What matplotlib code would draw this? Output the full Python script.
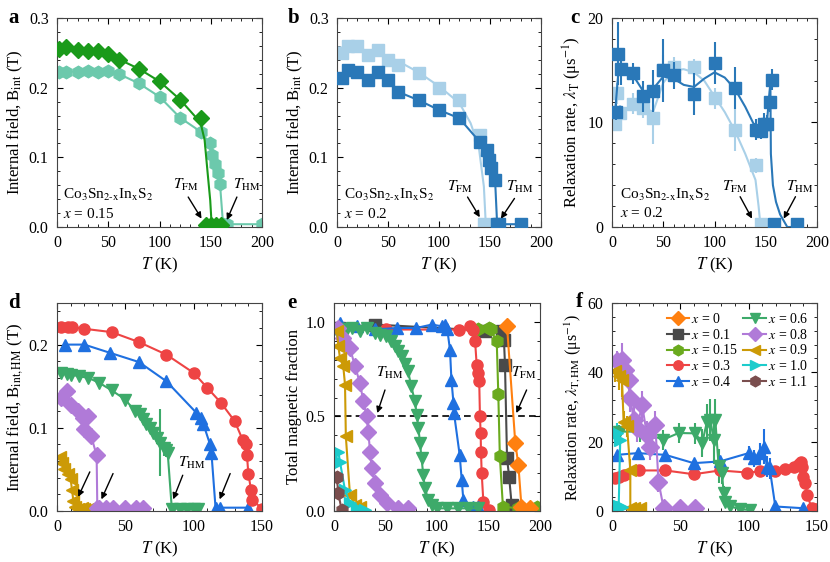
import numpy as np
import matplotlib
matplotlib.use("Agg")
import matplotlib.pyplot as plt
from matplotlib.ticker import AutoMinorLocator, MultipleLocator

plt.rcParams["font.family"] = ["Liberation Serif", "DejaVu Serif"]
plt.rcParams["mathtext.fontset"] = "stix"
plt.rcParams["font.size"] = 11

""" colours """
c_dkgreen = "#1a9a1a"
c_teal = "#6cc9ac"
c_dkblue = "#2a78b8"
c_ltblue = "#a9d0e8"
col = {
    "0": "#ff8010", "0.1": "#4a4a4a", "0.15": "#6aaa1e", "0.3": "#ee4444",
    "0.4": "#1f70e0", "0.6": "#3daa6a", "0.8": "#b07ad8", "0.9": "#cc9a06",
    "1.0": "#1ccccc", "1.1": "#7a4e4e",
}
mk = {
    "0": "D", "0.1": "s", "0.15": "h", "0.3": "o", "0.4": "^", "0.6": "v",
    "0.8": "D", "0.9": "<", "1.0": ">", "1.1": "h",
}

""" panel a data, x = 0.15 """
a_T_fm = [2, 9, 20, 30, 40, 50, 60, 80, 100, 120, 140, 145, 150, 155, 160]
a_B_fm = [0.255, 0.258, 0.254, 0.253, 0.252, 0.248, 0.240, 0.227, 0.210, 0.182, 0.156,
          0.003, 0.003, 0.003, 0.003]
a_fit_T = [0, 20, 40, 60, 80, 100, 120, 140, 144, 147, 149.5, 151, 160]
a_fit_B = [0.258, 0.256, 0.251, 0.241, 0.227, 0.209, 0.183, 0.150, 0.125, 0.077, 0.038, 0.0, 0.0]
a_T_hm = [2, 9, 20, 30, 40, 50, 60, 80, 100, 120, 140, 149, 151, 154, 157, 159, 162, 166, 200]
a_B_hm = [0.223, 0.223, 0.223, 0.224, 0.222, 0.224, 0.220, 0.206, 0.187, 0.157, 0.137,
          0.120, 0.103, 0.091, 0.077, 0.062, 0.004, 0.004, 0.004]

""" panel b data, x = 0.2 """
b_T_fm = [5, 11, 20, 30, 40, 50, 60, 80, 100, 120, 140, 144]
b_B_fm = [0.250, 0.260, 0.260, 0.247, 0.254, 0.240, 0.233, 0.221, 0.200, 0.182, 0.132, 0.004]
b_fit_T = [0, 20, 40, 60, 80, 100, 120, 131, 139, 144, 146]
b_fit_B = [0.258, 0.256, 0.250, 0.238, 0.222, 0.202, 0.178, 0.149, 0.115, 0.058, 0.0]
b_T_hm = [5, 11, 20, 30, 40, 50, 60, 80, 100, 120, 140, 147, 149, 151, 155, 157, 159, 180]
b_B_hm = [0.214, 0.226, 0.223, 0.211, 0.223, 0.211, 0.194, 0.182, 0.168, 0.156, 0.122,
          0.110, 0.096, 0.084, 0.067, 0.004, 0.004, 0.004]

""" panel c data, x = 0.2 """
c_T_hm = [4, 6, 9, 20, 30, 40, 50, 60, 80, 100, 120, 140, 145, 148, 151, 154, 156, 158, 180]
c_L_hm = [11.0, 16.6, 15.1, 14.7, 12.5, 13.0, 15.0, 14.5, 12.7, 15.7, 13.3, 9.3, 9.2,
          9.9, 9.9, 12.0, 14.1, 0.25, 0.25]
c_E_hm = [0.8, 3.0, 1.5, 1.0, 1.5, 2.0, 3.0, 1.3, 2.0, 2.0, 2.0, 1.0, 0.8, 1.0, 0.8,
          1.0, 1.0, 0.1, 0.1]
c_fit_hm_T = [3, 6, 10, 20, 33, 40, 50, 60, 70, 80, 90, 100, 110, 120, 130, 138, 148,
              151, 153, 154.5, 155, 157, 160, 164, 171, 180]
c_fit_hm_L = [11.0, 14.5, 15.0, 14.6, 12.6, 13.2, 14.4, 14.2, 13.6, 13.4, 14.2, 14.8,
              14.3, 13.2, 11.5, 9.9, 9.4, 9.8, 12.2, 13.8, 7.0, 4.0, 2.4, 1.2, 0.0, 0.0]
c_T_fm = [3, 5, 8, 20, 30, 40, 50, 60, 80, 100, 120, 140, 145]
c_L_fm = [9.9, 12.8, 10.9, 11.8, 11.4, 10.4, 15.0, 15.3, 15.3, 12.3, 9.3, 5.9, 0.25]
c_E_fm = [0.7, 1.0, 0.8, 1.0, 1.0, 2.5, 1.5, 1.0, 0.8, 1.0, 2.0, 0.7, 0.1]
c_fit_fm_T = [3, 10, 20, 30, 40, 50, 60, 70, 80, 90, 100, 110, 120, 130, 140, 143, 145]
c_fit_fm_L = [10.0, 11.0, 11.8, 11.5, 11.0, 13.8, 15.0, 15.1, 14.8, 14.0, 12.5, 11.0,
              9.2, 7.0, 4.5, 2.0, 0.0]

""" panel d data, B_int,HM """
d_T = {
    "0.3": [3, 8, 11, 20, 40, 60, 80, 100, 110, 120, 130, 136, 138, 139, 140, 142, 143, 150],
    "0.4": [6, 20, 39, 60, 80, 102, 105, 107, 112, 113, 116, 119, 140],
    "0.6": [3, 7, 10, 16, 23, 31, 40, 50, 57, 61, 63, 65, 68, 70, 73, 75, 78, 80, 81,
            84, 90, 95, 100, 103],
    "0.8": [3, 7, 10, 15, 19, 23, 20, 25, 29, 29.5, 31, 36, 41, 50, 58, 63],
    "0.9": [2, 4, 5, 8, 10, 11, 12, 13, 15, 18, 20, 23],
}
d_B = {
    "0.3": [0.221, 0.221, 0.221, 0.219, 0.215, 0.203, 0.188, 0.166, 0.148, 0.130, 0.108,
            0.085, 0.080, 0.067, 0.045, 0.025, 0.013, 0.003],
    "0.4": [0.200, 0.200, 0.190, 0.179, 0.156, 0.118, 0.112, 0.105, 0.080, 0.070, 0.004,
            0.004, 0.004],
    "0.6": [0.166, 0.165, 0.164, 0.162, 0.160, 0.154, 0.145, 0.134, 0.120, 0.116, 0.110,
            0.104, 0.100, 0.094, 0.088, 0.082, 0.076, 0.073, 0.070, 0.003, 0.003, 0.003,
            0.003, 0.003],
    "0.8": [0.136, 0.144, 0.128, 0.120, 0.112, 0.114, 0.098, 0.090, 0.067, 0.004, 0.004,
            0.004, 0.004, 0.004, 0.004, 0.004],
    "0.9": [0.065, 0.058, 0.050, 0.045, 0.038, 0.025, 0.012, 0.005, 0.003, 0.004, 0.003,
            0.003],
}
d_E6 = [0, 0, 0, 0, 0, 0, 0, 0, 0, 0, 0, 0, 0.003, 0.005, 0.008, 0.04, 0.01, 0.008,
        0.006, 0, 0, 0, 0, 0]

""" panel e data, magnetic fraction """
e_T = {
    "0": [168, 176, 179, 182, 190],
    "0.1": [5, 40, 147, 163, 165, 166, 168, 170, 172.5, 180],
    "0.15": [140, 150, 152, 158, 159.5, 161, 164, 179, 197],
    "0.3": [5, 50, 121, 132, 135, 137, 138.5, 140, 141, 141.7, 142.4, 142.7, 143.4, 145, 150],
    "0.4": [6, 22, 40, 61, 80, 95, 104.5, 108, 110, 112.6, 114, 116, 116.5, 122, 124,
            125.6, 135, 140],
    "0.6": [3, 8, 13, 17, 25, 32, 40, 45, 50, 55, 59, 62, 66, 69, 72, 75, 78.6, 80.3, 82,
            83.5, 85, 86.7, 88.3, 91.6, 95, 100, 110, 120, 130, 140],
    "0.8": [4.2, 9, 15.5, 20.4, 25.2, 28.5, 31.7, 33.3, 35, 36.6, 39.8, 44.7, 51, 62.5, 72],
    "0.9": [3, 4.2, 5.8, 9, 10.7, 11.5, 15.5, 20.4, 25],
    "1.0": [4.2, 5.8, 10.7, 15.5, 22, 30],
    "1.1": [2.6, 4.2, 7.4],
}
e_F = {
    "0": [0.977, 0.360, 0.244, 0.023, 0.014],
    "0.1": [0.970, 0.986, 0.954, 0.954, 0.906, 0.774, 0.279, 0.182, 0.032, 0.010],
    "0.15": [0.960, 0.968, 0.960, 0.897, 0.620, 0.290, 0.023, 0.014, 0.023],
    "0.3": [0.960, 0.960, 0.959, 0.977, 0.959, 0.897, 0.774, 0.730, 0.685, 0.500, 0.410,
            0.314, 0.200, 0.050, 0.005],
    "0.4": [0.995, 0.977, 0.960, 0.968, 0.968, 0.986, 0.977, 0.986, 0.960, 0.853, 0.694,
            0.571, 0.518, 0.297, 0.164, 0.058, 0.020, 0.020],
    "0.6": [0.950, 0.960, 0.960, 0.968, 0.950, 0.968, 0.940, 0.930, 0.924, 0.900, 0.870,
            0.845, 0.818, 0.780, 0.738, 0.659, 0.580, 0.509, 0.438, 0.359, 0.279, 0.190,
            0.120, 0.058, 0.030, 0.014, 0.014, 0.014, 0.014, 0.014],
    "0.8": [0.968, 0.915, 0.862, 0.765, 0.677, 0.580, 0.500, 0.420, 0.314, 0.226, 0.147,
            0.085, 0.040, 0.014, 0.014],
    "0.9": [0.950, 0.870, 0.810, 0.765, 0.668, 0.394, 0.085, 0.032, 0.020],
    "1.0": [0.314, 0.260, 0.110, 0.040, 0.014, 0.005],
    "1.1": [0.180, 0.095, 0.005],
}

""" panel f data, lambda_T,HM """
f_T = {
    "0.3": [2.4, 4.9, 8.5, 19.5, 39, 59.8, 79, 98.8, 108.5, 119.5, 126.8, 133, 136.6,
            138.3, 139, 140, 141.5, 143, 146, 149],
    "0.4": [3.7, 18.8, 39, 59.8, 79, 100, 103.7, 108.5, 111, 113.4, 115.4, 119.5, 140],
    "0.6": [3.4, 5.4, 20.7, 26.8, 37, 48.8, 61, 66, 69.5, 72, 74.4, 75.6, 78, 80.5, 81.7,
            83, 86.6, 94, 101],
    "0.8": [3.7, 7.3, 9.8, 12.2, 13.4, 15.9, 18.3, 22, 25.6, 28, 31.7, 34, 37.8, 50, 61],
    "0.9": [2.4, 4.9, 7.3, 8.5, 11, 13.4, 13.4, 16, 20.7],
    "1.0": [3.7, 6, 4.9, 7.3],
}
f_L = {
    "0.3": [9.4, 9.9, 10.4, 11.7, 11.7, 10.6, 11.7, 11.1, 11.4, 11.4, 12.0, 12.8, 13.5,
            14.0, 12.8, 9.9, 8.0, 4.6, 0.8, 0.5],
    "0.4": [16.2, 16.7, 16.2, 13.8, 14.3, 16.7, 15.2, 16.7, 18.6, 12.8, 12.3, 1.3, 0.8],
    "0.6": [22.0, 22.9, 22.9, 22.4, 20.5, 22.5, 22.4, 19.6, 25.8, 26.3, 20.5, 26.3, 13.0,
            10.9, 5.1, 2.7, 1.3, 0.5, 0.3],
    "0.8": [43.2, 43.6, 40.8, 37.9, 32.6, 26.3, 23.9, 30.6, 22.0, 18.6, 24.9, 8.5, 0.8,
            0.8, 0.8],
    "0.9": [40.3, 38.8, 37.9, 25.8, 24.4, 11.9, 0.8, 0.9, 0.8],
    "1.0": [22.4, 20.5, 1.3, 1.1],
}
f_E = {
    "0.3": [0.8, 0.8, 0.8, 0.8, 0.8, 0.8, 0.8, 0.8, 0.8, 0.8, 0.8, 0.8, 0.8, 0.8, 0.8,
            0.8, 0.8, 0.8, 0.3, 0.3],
    "0.4": [1, 1, 1, 1, 1.5, 2, 2.5, 3, 5, 3, 3, 0.5, 0.3],
    "0.6": [2, 2, 3, 3, 3, 3, 3, 4, 5, 6, 7, 6, 5, 3, 2, 1, 0.5, 0.3, 0.2],
    "0.8": [3, 5, 4, 4, 4, 4, 4, 4, 4, 4, 4, 3, 0.5, 0.5, 0.5],
    "0.9": [3, 4, 5, 3, 3, 3, 0.5, 0.5, 0.5],
    "1.0": [3, 3, 0.5, 0.5],
}
order = ["0", "0.1", "0.15", "0.3", "0.4", "0.6", "0.8", "0.9", "1.0", "1.1"]


def style(ax, xlim, ylim, xmaj, ymaj):
    ax.set_xlim(*xlim)
    ax.set_ylim(*ylim)
    ax.xaxis.set_major_locator(MultipleLocator(xmaj))
    ax.yaxis.set_major_locator(MultipleLocator(ymaj))
    ax.xaxis.set_minor_locator(AutoMinorLocator(5))
    ax.yaxis.set_minor_locator(AutoMinorLocator(5))
    ax.tick_params(which="both", direction="in", top=True, right=True, labelsize=11.5)
    ax.tick_params(which="major", length=4.5, width=0.8, pad=6)
    ax.tick_params(which="minor", length=2.5, width=0.6)
    for s in ax.spines.values():
        s.set_linewidth(0.8)
        s.set_color("#444444")
    ax.set_xlabel("$T$ (K)", fontsize=12, labelpad=3)


fig = plt.figure(figsize=(8.3, 5.62), dpi=100)
W, H = 830.0, 562.0


def add_ax(l, r, t, b):
    return fig.add_axes([l / W, 1 - b / H, (r - l) / W, (b - t) / H])


def panel_letter(letter, px, py):
    fig.text(px / W, 1 - py / H, letter, fontsize=15, fontweight="bold",
             va="center", ha="center")


def arrow(ax, text, xy, xytext, textpos):
    ax.annotate("", xy=xy, xytext=xytext,
                arrowprops=dict(arrowstyle="-|>", color="black", lw=1.0,
                                mutation_scale=9, shrinkA=0, shrinkB=0))
    if text:
        ax.text(textpos[0], textpos[1], text, fontsize=11, ha="center", va="center")


ax_a = add_ax(57, 262, 18, 227)
ax_b = add_ax(337, 541, 18, 227)
ax_c = add_ax(612, 817, 18, 227)
ax_d = add_ax(57, 262, 303, 511)
ax_e = add_ax(334, 540, 303, 511)
ax_f = add_ax(612, 817, 303, 511)

formula = r"Co$_3$Sn$_{\rm 2\text{-}x}$In$_{\rm x}$S$_2$"
ms = 8
ylab_fs = 12

""" panel a """
ax = ax_a
ax.plot(a_T_hm, a_B_hm, "-", color=c_teal, marker="h", ms=ms + 1, lw=1.5, zorder=2)
ax.plot(a_fit_T, a_fit_B, "-", color=c_dkgreen, lw=1.5, zorder=3)
ax.plot(a_T_fm, a_B_fm, "D", color=c_dkgreen, ms=ms, zorder=4)
style(ax, (0, 200), (0, 0.3), 50, 0.1)
ax.yaxis.set_major_formatter(plt.FormatStrFormatter("%.1f"))
ax.set_ylabel(r"Internal field, B$_{\rm int}$ (T)", fontsize=ylab_fs, labelpad=3)
ax.text(6, 0.046, formula, fontsize=11, va="center")
ax.text(6, 0.019, "$x$ = 0.15", fontsize=11, va="center")
arrow(ax, "$T_{\\rm FM}$", (141, 0.012), (128, 0.043), (126, 0.060))
arrow(ax, "$T_{\\rm HM}$", (165.7, 0.010), (175.5, 0.043), (185, 0.060))
panel_letter("a", 14, 18)

""" panel b """
ax = ax_b
ax.plot(b_fit_T, b_fit_B, "-", color=c_ltblue, lw=1.5, zorder=2)
ax.plot(b_T_fm, b_B_fm, "s", color=c_ltblue, ms=ms, zorder=2)
ax.plot(b_T_hm, b_B_hm, "-", color=c_dkblue, marker="s", ms=ms, lw=1.5, zorder=3)
style(ax, (0, 200), (0, 0.3), 50, 0.1)
ax.yaxis.set_major_formatter(plt.FormatStrFormatter("%.1f"))
ax.set_ylabel(r"Internal field, B$_{\rm int}$ (T)", fontsize=ylab_fs, labelpad=3)
ax.text(7, 0.046, formula, fontsize=11, va="center")
ax.text(7, 0.019, "$x$ = 0.2", fontsize=11, va="center")
arrow(ax, "$T_{\\rm FM}$", (140, 0.014), (128, 0.043), (120, 0.058))
arrow(ax, "$T_{\\rm HM}$", (160.7, 0.012), (174, 0.041), (179, 0.058))
panel_letter("b", 294, 18)

""" panel c """
ax = ax_c
ax.plot(c_fit_fm_T, c_fit_fm_L, "-", color=c_ltblue, lw=1.5, zorder=2)
ax.errorbar(c_T_fm, c_L_fm, yerr=c_E_fm, fmt="s", color=c_ltblue, ms=ms,
            elinewidth=1.5, capsize=0, zorder=2)
ax.plot(c_fit_hm_T, c_fit_hm_L, "-", color=c_dkblue, lw=1.5, zorder=3)
ax.errorbar(c_T_hm, c_L_hm, yerr=c_E_hm, fmt="s", color=c_dkblue, ms=ms,
            elinewidth=1.5, capsize=0, zorder=3)
style(ax, (0, 200), (0, 20), 50, 10)
ax.set_ylabel("Relaxation rate, $\\lambda_{\\rm T}$ (μs$^{-1}$)", fontsize=ylab_fs,
              labelpad=3)
ax.text(8, 3.1, formula, fontsize=11, va="center")
ax.text(8, 1.3, "$x$ = 0.2", fontsize=11, va="center")
arrow(ax, "$T_{\\rm FM}$", (136.6, 0.8), (125, 2.9), (120, 3.8))
arrow(ax, "$T_{\\rm HM}$", (167.5, 0.8), (179, 2.9), (183, 3.8))
panel_letter("c", 575, 18)

""" panel d """
ax = ax_d
for k in ["0.9", "0.8", "0.6", "0.4", "0.3"]:
    if k == "0.6":
        ax.errorbar(d_T[k], d_B[k], yerr=d_E6, fmt="-", color=col[k], marker=mk[k],
                    ms=ms + 1, lw=1.5, elinewidth=1.5, capsize=0)
    else:
        ax.plot(d_T[k], d_B[k], "-", color=col[k], marker=mk[k],
                ms=ms + (1 if k in ("0.9", "0.4") else 0), lw=1.5)
style(ax, (0, 150), (0, 0.25), 50, 0.1)
ax.yaxis.set_major_formatter(plt.FormatStrFormatter("%.1f"))
ax.set_ylabel(r"Internal field, B$_{\rm int,HM}$ (T)", fontsize=ylab_fs, labelpad=3)
arrow(ax, None, (15.5, 0.017), (24, 0.047), None)
arrow(ax, None, (32.5, 0.014), (41, 0.045), None)
arrow(ax, "$T_{\\rm HM}$", (85, 0.014), (92, 0.043), (98.6, 0.058))
arrow(ax, None, (119, 0.014), (126.7, 0.045), None)
panel_letter("d", 14, 303)

""" panel e """
ax = ax_e
ax.axhline(0.5, color="black", lw=1.2, ls=(0, (4, 2.5)), zorder=1)
e_handles = {}
for k in ["0.1", "0.15", "0", "0.3", "0.4", "0.6", "0.8", "0.9", "1.0", "1.1"]:
    (h,) = ax.plot(e_T[k], e_F[k], "-", color=col[k], marker=mk[k],
                   ms=ms + (1 if k in ("0.6", "0.4", "0.9", "1.0", "0.15", "1.1") else 0),
                   lw=1.5, zorder=2)
    e_handles[k] = h
style(ax, (0, 200), (0, 1.1), 50, 0.5)
ax.yaxis.set_major_formatter(plt.FormatStrFormatter("%.1f"))
ax.set_ylabel("Total magnetic fraction", fontsize=ylab_fs, labelpad=3)
arrow(ax, "$T_{\\rm HM}$", (42, 0.518), (49.5, 0.64), (54.4, 0.73))
arrow(ax, "$T_{\\rm FM}$", (177, 0.518), (187, 0.64), (184, 0.73))
panel_letter("e", 292, 303)

""" panel f """
ax = ax_f
for k in ["0.3", "0.4", "0.6", "0.8", "0.9", "1.0"]:
    ax.errorbar(f_T[k], f_L[k], yerr=f_E[k], fmt="-", color=col[k], marker=mk[k],
                ms=ms + (1 if k != "0.3" else 0), lw=1.5, elinewidth=1.5, capsize=0)
style(ax, (0, 150), (0, 60), 50, 20)
ax.set_ylabel("Relaxation rate, $\\lambda_{\\rm T,HM}$ (μs$^{-1}$)", fontsize=11.5,
              labelpad=3)
ax.legend([e_handles[k] for k in order], ["$x$ = " + k for k in order],
          ncol=2, loc="upper right", bbox_to_anchor=(1.0, 1.0), frameon=False,
          fontsize=10, handlelength=1.6, handletextpad=0.15, columnspacing=0.4,
          labelspacing=0.12, markerscale=0.85, borderaxespad=0.25)
panel_letter("f", 579, 302)

fig.savefig("out.png", dpi=100)
